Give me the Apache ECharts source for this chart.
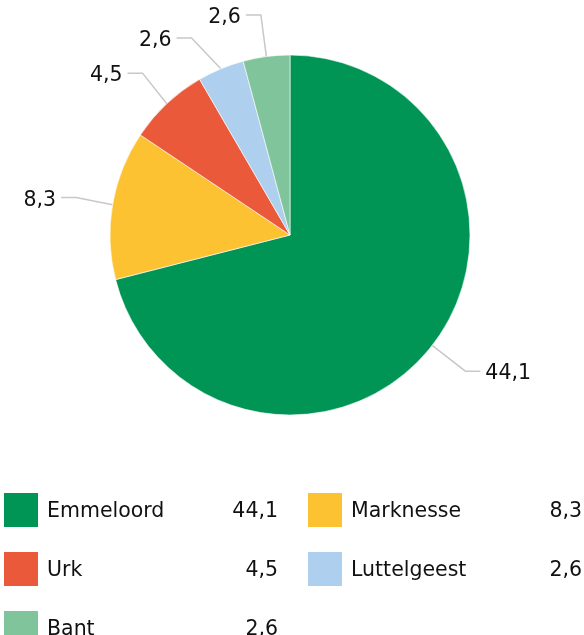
<!DOCTYPE html>
<html>
<head>
<meta charset="utf-8">
<script src="https://cdn.jsdelivr.net/npm/echarts@6/dist/echarts.min.js"></script>
<style>
  html, body { margin: 0; padding: 0; background: #fff; }
  #chart { width: 584px; height: 635px; }
</style>
</head>
<body>
<div id="chart"></div>
<script>
  // data
  const places = ["Emmeloord", "Marknesse", "Urk", "Luttelgeest", "Bant"];
  const values = [44.1, 8.3, 4.5, 2.6, 2.6];
  const colors = ["#009455", "#fdc231", "#ea5a3a", "#aecfee", "#80c49b"];

  const fmt = v => v.toFixed(1).replace(".", ",");
  const font = "DejaVu Sans";
  const size = 20.5;

  const chart = echarts.init(document.getElementById("chart"), null, { renderer: "canvas" });

  chart.setOption({
    animation: false,
    legend: {
      left: 2,
      top: 491,
      width: 600,
      padding: 0,
      orient: "horizontal",
      icon: "rect",
      itemWidth: 36,
      itemHeight: 36,
      itemGap: 21,
      data: places,
      formatter: name => `{n|${name}}{v|${fmt(values[places.indexOf(name)])}}{s| }`,
      textStyle: {
        fontFamily: font,
        fontSize: size,
        color: "#111",
        rich: {
          n: { fontFamily: font, fontSize: size, color: "#111", width: 181, padding: [3, 0, 0, 3] },
          v: { fontFamily: font, fontSize: size, color: "#111", width: 50, align: "right", padding: [3, 0, 0, 0] },
          s: { fontFamily: font, fontSize: size, width: 7, align: "right" }
        }
      }
    },
    series: [{
      type: "pie",
      center: [290, 235],
      radius: 180,
      startAngle: 90,
      clockwise: true,
      data: places.map((p, i) => ({ name: p, value: values[i], itemStyle: { color: colors[i] } })),
      itemStyle: { borderColor: "#fff", borderWidth: 0.6 },
      label: {
        show: true,
        position: "outside",
        formatter: p => `{t|${fmt(p.value)}}`,
        fontFamily: font,
        fontSize: size,
        color: "#111",
        rich: {
          t: { fontFamily: font, fontSize: size, color: "#111", padding: [6, 0, 0, 0] }
        }
      },
      labelLine: {
        show: true,
        length: 42,
        length2: 15,
        lineStyle: { color: "#c8c8c8", width: 1.5 }
      },
      emphasis: { disabled: true }
    }]
  });
</script>
</body>
</html>
